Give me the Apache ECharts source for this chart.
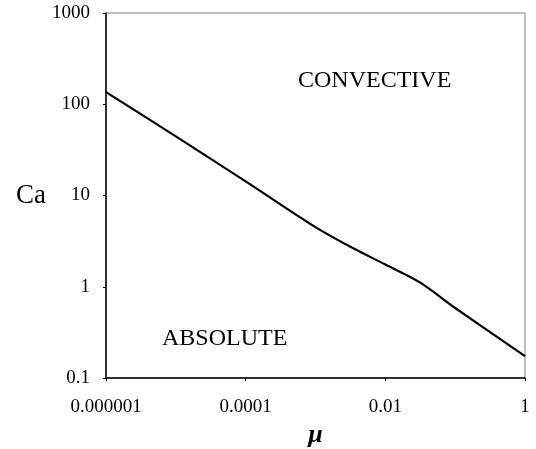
<!DOCTYPE html>
<html>
    <head>
        <meta charset="UTF-8">
        <style>
            html, body { margin: 0; padding: 0; background: #fff; }
            #chart { width: 536px; height: 449px; }
        </style>
        <script src="https://cdn.jsdelivr.net/npm/echarts@6/dist/echarts.min.js"></script>
    </head>
    <body>
        <div id="chart"></div>
    </body>
    <script>
        // data
        var mu = [0.000001, 0.00001, 0.0001, 0.001, 0.00316, 0.01, 0.0316, 0.1, 1];
        var ca = [136, 44.4, 14.3, 4.5, 2.74, 1.75, 1.11, 0.585, 0.174];
        var xTickLabels = ['0.000001', '0.0001', '0.01', '1'];
        var yTickLabels = ['0.1', '1', '10', '100', '1000'];

        var font = 'Liberation Serif';

        var chart = echarts.init(document.getElementById('chart'));

        var option = {
            animation: false,
            grid: {
                left: 106, right: 11, top: 13, bottom: 71,
                outerBoundsMode: 'none',
                containLabel: false,
                show: true, borderColor: '#808080', borderWidth: 1
            },
            xAxis: {
                type: 'log',
                logBase: 100,
                min: 0.000001,
                max: 1,
                name: 'μ',
                nameLocation: 'middle',
                nameGap: 39,
                nameTextStyle: { fontFamily: font, fontSize: 26, fontStyle: 'italic', fontWeight: 'bold', color: '#000' },
                axisLine: { lineStyle: { color: '#000', width: 1.5 } },
                axisTick: { show: true, length: 3, lineStyle: { color: '#000' } },
                minorTick: { show: false },
                splitLine: { show: false },
                axisLabel: {
                    margin: 20, fontFamily: font, fontSize: 19, color: '#000',
                    formatter: function (v, i) { return xTickLabels[i]; }
                }
            },
            yAxis: {
                type: 'log',
                min: 0.1,
                max: 1000,
                name: 'Ca',
                nameLocation: 'middle',
                nameRotate: 0,
                nameGap: 60,
                nameTextStyle: { fontFamily: font, fontSize: 27, color: '#000', padding: [6, 0, 0, 0] },
                axisLine: { lineStyle: { color: '#000', width: 1.5 } },
                axisTick: { show: true, length: 3, lineStyle: { color: '#000' } },
                splitLine: { show: false },
                axisLabel: {
                    margin: 16, fontFamily: font, fontSize: 19, color: '#000',
                    formatter: function (v, i) { return yTickLabels[i]; }
                }
            },
            series: [{
                type: 'line',
                data: mu.map(function (m, i) { return [m, ca[i]]; }),
                smooth: 0.3,
                showSymbol: false,
                lineStyle: { color: '#000', width: 2.2 }
            }],
            graphic: [
                { type: 'text', left: 298, top: 69, style: { text: 'CONVECTIVE', font: '24px ' + font, fill: '#000' } },
                { type: 'text', left: 162, top: 327, style: { text: 'ABSOLUTE', font: '24px ' + font, fill: '#000' } }
            ]
        };

        chart.setOption(option);
    </script>
</html>
